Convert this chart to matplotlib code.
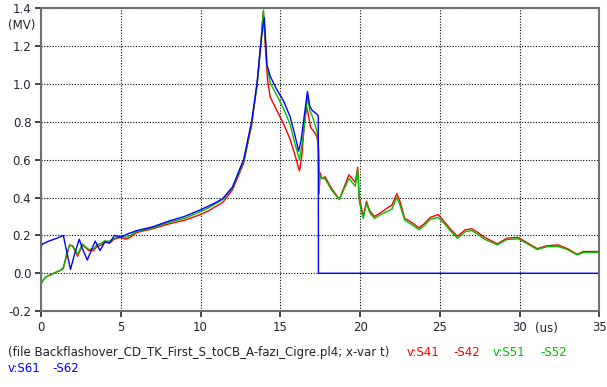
import matplotlib.pyplot as plt

# Voltage difference traces (MV) vs time (us)
t_red = [0, 0.1, 0.3, 0.8, 1.2, 1.4, 1.6, 1.8, 2.0, 2.3, 2.6, 3.0, 3.3, 3.5, 3.8, 4.0, 4.3, 4.6, 5.0,
         5.3, 5.6, 6.0, 7, 8, 9, 10, 10.5, 11, 11.4, 12, 12.7, 13.2, 13.55, 13.74, 13.93, 14.1,
         14.2, 14.37, 14.78, 15.2, 15.6, 15.9, 16.2, 16.35, 16.5, 16.65, 16.75, 16.9, 17.1,
         17.3, 17.4, 17.45, 17.5, 17.6, 17.8, 18.2, 18.7, 19.3, 19.5, 19.7, 19.85, 19.95, 20.1,
         20.2, 20.4, 20.6, 20.9, 21.3, 21.8, 22.0, 22.3, 22.5, 22.8, 23.2, 23.7, 24.0, 24.4, 24.9,
         25.3, 25.7, 26.1, 26.6, 27.0, 27.3, 27.8, 28.6, 29.2, 29.9, 30.5, 31.1, 31.7, 32.4, 33.0,
         33.6, 34.0, 35.0]
v_red = [-0.06, -0.04, -0.02, 0.0, 0.015, 0.025, 0.09, 0.15, 0.14, 0.09, 0.15, 0.12, 0.12, 0.14,
         0.15, 0.17, 0.16, 0.18, 0.19, 0.18, 0.19, 0.215, 0.235, 0.26, 0.28, 0.31, 0.33, 0.355, 0.375,
         0.44, 0.58, 0.78, 1.0, 1.17, 1.38, 1.15, 1.02, 0.93, 0.86, 0.79, 0.71, 0.63, 0.54,
         0.62, 0.78, 0.88, 0.84, 0.77, 0.75, 0.72, 0.66, 0.46, 0.53, 0.50, 0.51, 0.45, 0.39, 0.52,
         0.50, 0.48, 0.56, 0.40, 0.34, 0.30, 0.38, 0.33, 0.30, 0.32, 0.35, 0.36, 0.42, 0.38, 0.29,
         0.27, 0.24, 0.26, 0.295, 0.31, 0.27, 0.23, 0.195, 0.23, 0.235, 0.22, 0.19, 0.155, 0.185,
         0.19, 0.16, 0.13, 0.145, 0.15, 0.13, 0.10, 0.115, 0.115]

t_green = [0, 0.1, 0.3, 0.8, 1.2, 1.4, 1.6, 1.8, 2.0, 2.3, 2.6, 3.0, 3.3, 3.5, 3.8, 4.0, 4.3, 4.6,
           5.0, 5.3, 5.6, 6.0, 7, 8, 9, 10, 10.5, 11, 11.4, 12, 12.7, 13.2, 13.55, 13.74, 13.95,
           14.16, 14.37, 14.78, 15.2, 15.6, 15.9, 16.2, 16.4, 16.7, 16.85, 17.0, 17.3, 17.38,
           17.42, 17.47, 17.6, 17.8, 18.2, 18.7, 19.3, 19.5, 19.7, 19.85, 19.95, 20.1,
           20.2, 20.4, 20.6, 20.9, 21.3, 21.8, 22.0, 22.3, 22.5, 22.8, 23.2, 23.7, 24.0, 24.4,
           24.9, 25.3, 25.7, 26.1, 26.6, 27.0, 27.3, 27.8, 28.6, 29.2, 29.9, 30.5, 31.1, 31.7,
           32.4, 33.0, 33.6, 34.0, 35.0]
v_green = [-0.06, -0.04, -0.02, 0.0, 0.015, 0.03, 0.10, 0.15, 0.145, 0.10, 0.155, 0.125, 0.13,
           0.15, 0.16, 0.17, 0.17, 0.185, 0.195, 0.19, 0.20, 0.22, 0.24, 0.268, 0.29, 0.325, 0.345,
           0.37, 0.39, 0.45, 0.59, 0.79, 1.0, 1.18, 1.39, 1.10, 1.005, 0.94, 0.87, 0.79, 0.69,
           0.60, 0.70, 0.93, 0.86, 0.83, 0.75, 0.66, 0.42, 0.52, 0.50, 0.50,
           0.44, 0.39, 0.50, 0.48, 0.46, 0.55, 0.38, 0.32, 0.29, 0.37, 0.32, 0.29, 0.31, 0.33,
           0.34, 0.40, 0.36, 0.28, 0.26, 0.23, 0.25, 0.285, 0.295, 0.26, 0.22, 0.185, 0.22, 0.225,
           0.21, 0.18, 0.15, 0.178, 0.182, 0.155, 0.125, 0.14, 0.142, 0.125, 0.097, 0.11, 0.11]

t_blue = [0, 0.1, 0.5, 1.0, 1.4, 1.6, 1.85, 2.1, 2.4, 2.6, 2.9, 3.2, 3.4, 3.7, 4.0, 4.3, 4.6, 5.0,
          5.5, 6, 7, 8, 9, 10, 10.5, 11, 11.4, 12, 12.7, 13.2, 13.55, 13.74, 13.9, 14.0, 14.16,
          14.37, 14.78, 15.2, 15.6, 15.9, 16.15, 16.3, 16.7, 16.85, 17.0, 17.3, 17.38,
          17.39, 35.0]
v_blue = [0.14, 0.155, 0.17, 0.185, 0.20, 0.12, 0.02, 0.10, 0.18, 0.13, 0.07, 0.13, 0.17, 0.12,
          0.165, 0.16, 0.20, 0.19, 0.21, 0.225, 0.245, 0.275, 0.30, 0.335, 0.355, 0.375, 0.395,
          0.455, 0.60, 0.80, 1.01, 1.18, 1.30, 1.35, 1.10, 1.04, 0.97, 0.91, 0.83, 0.735, 0.645,
          0.70, 0.96, 0.88, 0.86, 0.84, 0.83, 0.0, 0.0]

x_ticks = [0, 5, 10, 15, 20, 25, 30, 35]
y_ticks = [-0.2, 0.0, 0.2, 0.4, 0.6, 0.8, 1.0, 1.2, 1.4]

fig = plt.figure(figsize=(6.07, 3.87), dpi=100)
ax = fig.add_axes([0.0675, 0.196, 0.92, 0.783])

ax.plot(t_red, v_red, color='#ff0000', lw=1.0)
ax.plot(t_green, v_green, color='#00c000', lw=1.0)
ax.plot(t_blue, v_blue, color='#0000ff', lw=1.0)

ax.set_xlim(0, 35)
ax.set_ylim(-0.2, 1.4)
ax.set_xticks(x_ticks)
ax.set_yticks(y_ticks)
ax.set_yticklabels(['%.1f' % y for y in y_ticks])
ax.grid(True, color='black', linestyle=(0, (1, 1.5)), lw=0.8)
ax.tick_params(labelsize=8.5, colors='#222233', length=4, width=1.2, pad=3)
for s in ax.spines.values():
    s.set_color('#707070')
    s.set_linewidth(1.5)

fig.text(0.013, 0.935, '(MV)', fontsize=8.5, color='#222233', va='center')
fig.text(0.9, 0.152, '(us)', fontsize=8.5, color='#222233', va='center', ha='center')

# Legend line
fs = 8.5
y1, y2 = 0.09, 0.047
fig.text(0.013, y1, '(file Backflashover_CD_TK_First_S_toCB_A-faz\u0131_Cigre.pl4; x-var t)',
         fontsize=fs, color='#222222', va='center')
fig.text(407 / 607, y1, 'v:S41', fontsize=fs, color='#ff0000', va='center')
fig.text(453 / 607, y1, '-S42', fontsize=fs, color='#ff0000', va='center')
fig.text(493 / 607, y1, 'v:S51', fontsize=fs, color='#00c000', va='center')
fig.text(540 / 607, y1, '-S52', fontsize=fs, color='#00c000', va='center')
fig.text(0.013, y2, 'v:S61', fontsize=fs, color='#0000ff', va='center')
fig.text(52 / 607, y2, '-S62', fontsize=fs, color='#0000ff', va='center')

fig.savefig('out.png', dpi=100)
